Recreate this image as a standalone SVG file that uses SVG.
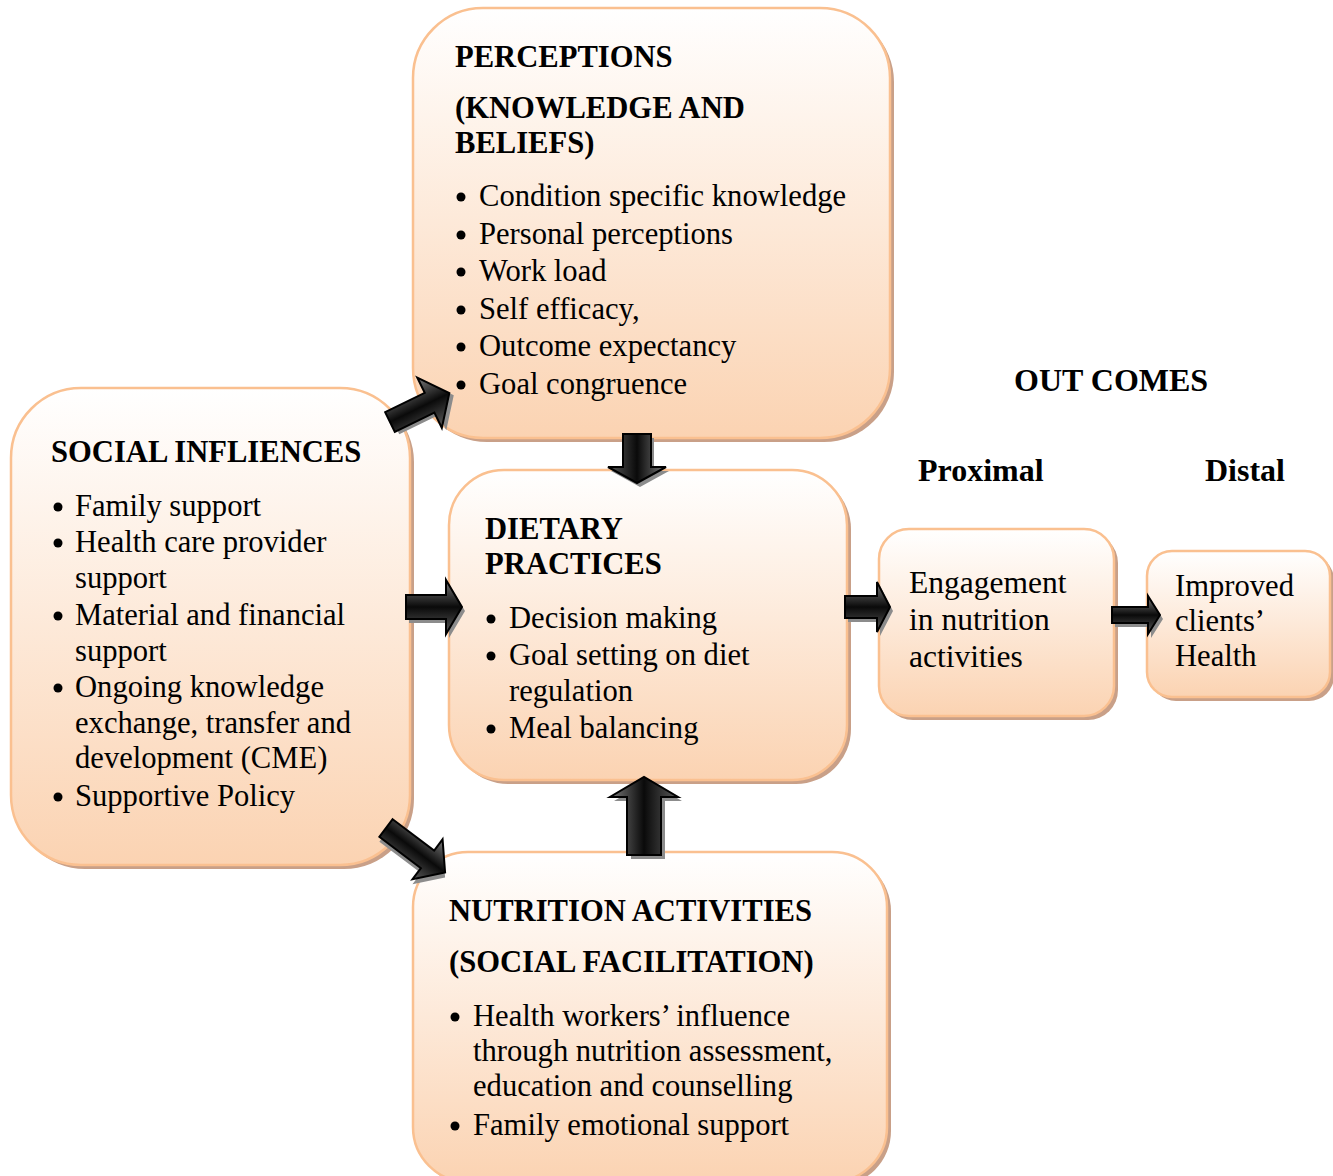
<svg xmlns="http://www.w3.org/2000/svg" width="1333" height="1176" viewBox="0 0 1333 1176">
<defs>
<linearGradient id="boxg" x1="0" y1="0" x2="0" y2="1">
<stop offset="0" stop-color="#ffffff"/>
<stop offset="1" stop-color="#fbd3b2"/>
</linearGradient>
<linearGradient id="arrg" x1="0" y1="0" x2="0" y2="1">
<stop offset="0" stop-color="#7a7a7a"/>
<stop offset="0.5" stop-color="#0a0a0a"/>
<stop offset="1" stop-color="#5a5a5a"/>
</linearGradient>
</defs>
<style>
.sh{fill:#c9a088;}
.bx{fill:url(#boxg);stroke:#fac090;stroke-width:2.5;}
.t{font-family:"Liberation Serif","Times New Roman",serif;font-size:30.6px;fill:#000;}
.b{font-weight:bold;}
.l{font-size:32px;}
.e{font-size:31.5px;}
.d{fill:#000;}
.as{fill:#8c8c8c;}
.ar{fill:url(#arrg);stroke:#000;stroke-width:2;stroke-linejoin:miter;}
</style>

<g id="perceptions">
<rect class="sh" x="417" y="12" width="477" height="430" rx="70"/>
<rect class="bx" x="413" y="8" width="477" height="430" rx="70"/>
<text class="t b" x="455" y="67">PERCEPTIONS</text>
<text class="t b" x="455" y="118">(KNOWLEDGE AND</text>
<text class="t b" x="455" y="153">BELIEFS)</text>
<circle class="d" cx="461" cy="197" r="4.5"/><text class="t" x="479" y="206">Condition specific knowledge</text>
<circle class="d" cx="461" cy="235" r="4.5"/><text class="t" x="479" y="244">Personal perceptions</text>
<circle class="d" cx="461" cy="272" r="4.5"/><text class="t" x="479" y="281">Work load</text>
<circle class="d" cx="461" cy="310" r="4.5"/><text class="t" x="479" y="319">Self efficacy,</text>
<circle class="d" cx="461" cy="347" r="4.5"/><text class="t" x="479" y="356">Outcome expectancy</text>
<circle class="d" cx="461" cy="385" r="4.5"/><text class="t" x="479" y="394">Goal congruence</text>
</g>

<g id="social">
<rect class="sh" x="15" y="392" width="399" height="477" rx="70"/>
<rect class="bx" x="11" y="388" width="399" height="477" rx="70"/>
<text class="t b" x="51" y="462">SOCIAL INFLIENCES</text>
<circle class="d" cx="58" cy="507" r="4.5"/><text class="t" x="75" y="516">Family support</text>
<circle class="d" cx="58" cy="543" r="4.5"/><text class="t" x="75" y="552">Health care provider</text>
<text class="t" x="75" y="588">support</text>
<circle class="d" cx="58" cy="616" r="4.5"/><text class="t" x="75" y="625">Material and financial</text>
<text class="t" x="75" y="661">support</text>
<circle class="d" cx="58" cy="688" r="4.5"/><text class="t" x="75" y="697">Ongoing knowledge</text>
<text class="t" x="75" y="733">exchange, transfer and</text>
<text class="t" x="75" y="768">development (CME)</text>
<circle class="d" cx="58" cy="797" r="4.5"/><text class="t" x="75" y="806">Supportive Policy</text>
</g>

<g id="dietary">
<rect class="sh" x="453" y="474" width="398" height="310" rx="55"/>
<rect class="bx" x="449" y="470" width="398" height="310" rx="55"/>
<text class="t b" x="485" y="539">DIETARY</text>
<text class="t b" x="485" y="574">PRACTICES</text>
<circle class="d" cx="491" cy="619" r="4.5"/><text class="t" x="509" y="628">Decision making</text>
<circle class="d" cx="491" cy="656" r="4.5"/><text class="t" x="509" y="665">Goal setting on diet</text>
<text class="t" x="509" y="701">regulation</text>
<circle class="d" cx="491" cy="729" r="4.5"/><text class="t" x="509" y="738">Meal balancing</text>
</g>

<g id="nutrition">
<rect class="sh" x="417" y="856" width="474" height="330" rx="55"/>
<rect class="bx" x="413" y="852" width="474" height="330" rx="55"/>
<text class="t b" x="449" y="921">NUTRITION ACTIVITIES</text>
<text class="t b" x="449" y="972">(SOCIAL FACILITATION)</text>
<circle class="d" cx="455" cy="1017" r="4.5"/><text class="t" x="473" y="1026">Health workers’ influence</text>
<text class="t" x="473" y="1061">through nutrition assessment,</text>
<text class="t" x="473" y="1096">education and counselling</text>
<circle class="d" cx="455" cy="1126" r="4.5"/><text class="t" x="473" y="1135">Family emotional support</text>
</g>

<g id="engagement">
<rect class="sh" x="883" y="533" width="235" height="187" rx="30"/>
<rect class="bx" x="879" y="529" width="235" height="187" rx="30"/>
<text class="t e" x="909" y="593">Engagement</text>
<text class="t e" x="909" y="630">in nutrition</text>
<text class="t e" x="909" y="667">activities</text>
</g>

<g id="improved">
<rect class="sh" x="1151" y="555" width="183" height="146" rx="25"/>
<rect class="bx" x="1147" y="551" width="183" height="146" rx="25"/>
<text class="t" x="1175" y="596">Improved</text>
<text class="t" x="1175" y="631">clients’</text>
<text class="t" x="1175" y="666">Health</text>
</g>

<g id="labels">
<text class="t b l" x="1014" y="391">OUT COMES</text>
<text class="t b l" x="918" y="481">Proximal</text>
<text class="t b l" x="1205" y="481">Distal</text>
</g>

<g id="connectors">
<g transform="translate(390,422) rotate(-26)">
<path class="as" transform="translate(3,4)" d="M0,-11 L44,-11 L44,-28 L66,0 L44,28 L44,11 L0,11 Z"/>
<path class="ar" d="M0,-11 L44,-11 L44,-28 L66,0 L44,28 L44,11 L0,11 Z"/>
</g>
<g transform="translate(637,434) rotate(90)">
<path class="as" transform="translate(4,-3)" d="M0,-14 L33,-14 L33,-29 L49,0 L33,29 L33,14 L0,14 Z"/>
<path class="ar" d="M0,-14 L33,-14 L33,-29 L49,0 L33,29 L33,14 L0,14 Z"/>
</g>
<g transform="translate(406,607)">
<path class="as" transform="translate(3,4)" d="M0,-12 L40,-12 L40,-27 L56,0 L40,27 L40,12 L0,12 Z"/>
<path class="ar" d="M0,-12 L40,-12 L40,-27 L56,0 L40,27 L40,12 L0,12 Z"/>
</g>
<g transform="translate(386,828) rotate(37)">
<path class="as" transform="translate(3,4)" d="M0,-11 L52,-11 L52,-25 L74,0 L52,25 L52,11 L0,11 Z"/>
<path class="ar" d="M0,-11 L52,-11 L52,-25 L74,0 L52,25 L52,11 L0,11 Z"/>
</g>
<g transform="translate(644,855) rotate(-90)">
<path class="as" transform="translate(-4,4)" d="M0,-17 L58,-17 L58,-34 L78,0 L58,34 L58,17 L0,17 Z"/>
<path class="ar" d="M0,-17 L58,-17 L58,-34 L78,0 L58,34 L58,17 L0,17 Z"/>
</g>
<g transform="translate(845,607)">
<path class="as" transform="translate(3,4)" d="M0,-11 L32,-11 L32,-25 L45,0 L32,25 L32,11 L0,11 Z"/>
<path class="ar" d="M0,-11 L32,-11 L32,-25 L45,0 L32,25 L32,11 L0,11 Z"/>
</g>
<g transform="translate(1112,615)">
<path class="as" transform="translate(3,4)" d="M0,-8 L36,-8 L36,-19 L48,0 L36,19 L36,8 L0,8 Z"/>
<path class="ar" d="M0,-8 L36,-8 L36,-19 L48,0 L36,19 L36,8 L0,8 Z"/>
</g>
</g>
</svg>
